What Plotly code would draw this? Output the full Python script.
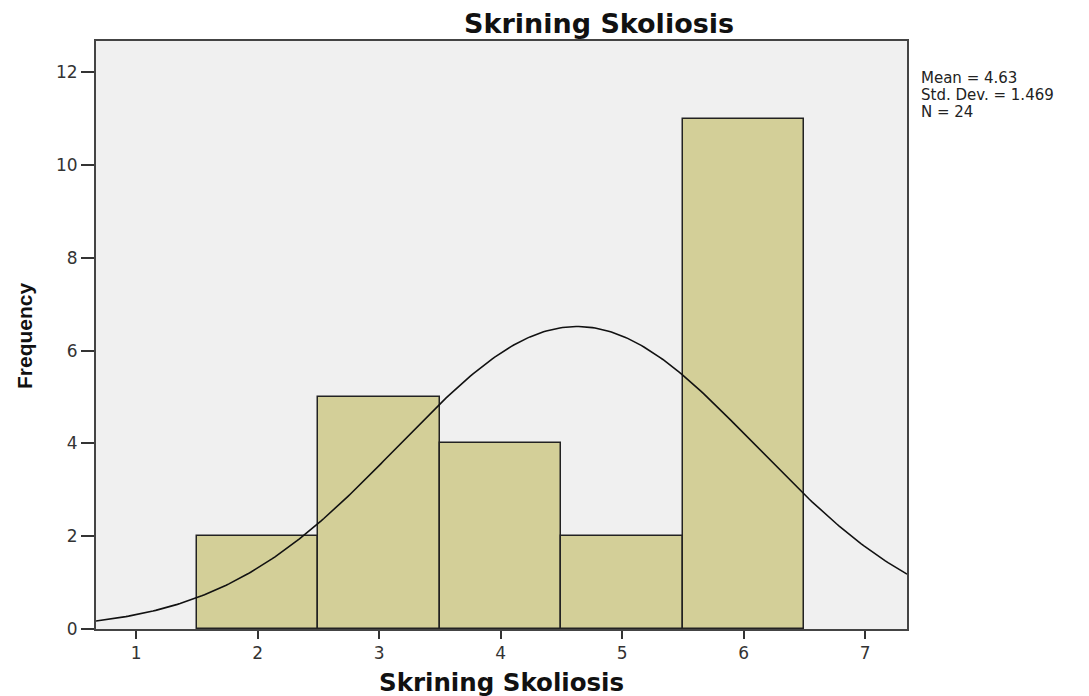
import numpy as np
import plotly.graph_objects as go

# Data
categories = [2, 3, 4, 5, 6]
frequencies = [2, 5, 4, 2, 11]
x_ticks = [1, 2, 3, 4, 5, 6, 7]
y_ticks = [0, 2, 4, 6, 8, 10, 12]
stat_lines = ["Mean = 4.63", "Std. Dev. = 1.469", "N = 24"]
mean_val = 4.63
sd_val = 1.469
n_val = 24

# Normal curve scaled to histogram (bin width 1)
xc = np.linspace(0.67, 7.345, 300)
yc = n_val * 1.0 / (sd_val * np.sqrt(2 * np.pi)) * np.exp(-0.5 * ((xc - mean_val) / sd_val) ** 2)

fig = go.Figure()
fig.add_trace(go.Bar(
    x=categories, y=frequencies, width=1.0,
    marker=dict(color="#d3cf98", line=dict(color="#222", width=1.5)),
    hoverinfo="x+y", showlegend=False,
))
fig.add_trace(go.Scatter(
    x=xc, y=yc, mode="lines",
    line=dict(color="#111", width=1.6),
    showlegend=False, hoverinfo="skip",
))

PL, PT, PW, PH = 95, 40, 811, 588  # target plot box in the photographed page

def px(x):
    return (x - PL) / PW

def py(y):
    return (PT + PH - y) / PH

tickfont = dict(family="DejaVu Sans, sans-serif", size=17, color="#333")
annotations = [
    dict(text="<b>Skrining Skoliosis</b>", xref="paper", yref="paper",
         x=px(598), y=py(22), xanchor="center", yanchor="middle",
         showarrow=False, font=dict(family="DejaVu Sans, sans-serif", size=27, color="#111")),
    dict(text="<b>Skrining Skoliosis</b>", xref="paper", yref="paper",
         x=px(500), y=py(681), xanchor="center", yanchor="middle",
         showarrow=False, font=dict(family="DejaVu Sans, sans-serif", size=24.5, color="#111")),
    dict(text="<b>Frequency</b>", xref="paper", yref="paper", textangle=-90,
         x=px(23), y=py(335), xanchor="center", yanchor="middle",
         showarrow=False, font=dict(family="Liberation Sans, Arial, sans-serif", size=21, color="#111")),
]
for i, line in enumerate(stat_lines):
    annotations.append(dict(
        text=line, xref="paper", yref="paper",
        x=px(918), y=py(77 + 17 * i),
        xanchor="left", yanchor="middle", align="left", showarrow=False,
        font=dict(family="DejaVu Sans, sans-serif", size=15, color="#222"),
    ))

# the page is shown offset by ~7px, so the figure margins compensate
OFF = 7
fig.update_layout(
    template="none",
    width=1089, height=696,
    margin=dict(l=PL - OFF, r=1089 - (PL - OFF) - PW, t=PT - OFF,
                b=696 - (PT - OFF) - PH, autoexpand=False),
    paper_bgcolor="white", plot_bgcolor="#f0f0f0",
    bargap=0,
    xaxis=dict(range=[0.67, 7.345], tickvals=x_ticks, ticks="outside", ticklen=8,
               tickwidth=1.5, tickcolor="#333", tickfont=tickfont,
               showgrid=False, zeroline=False, showline=True, linecolor="#444",
               linewidth=2, mirror=True, automargin=False),
    yaxis=dict(range=[0, 12.67], tickvals=y_ticks, ticks="outside", ticklen=13,
               tickwidth=1.5, tickcolor="#333", tickfont=tickfont,
               showgrid=False, zeroline=False, showline=True, linecolor="#444",
               linewidth=2, mirror=True, automargin=False),
    annotations=annotations,
)

fig.write_html("out.html")
